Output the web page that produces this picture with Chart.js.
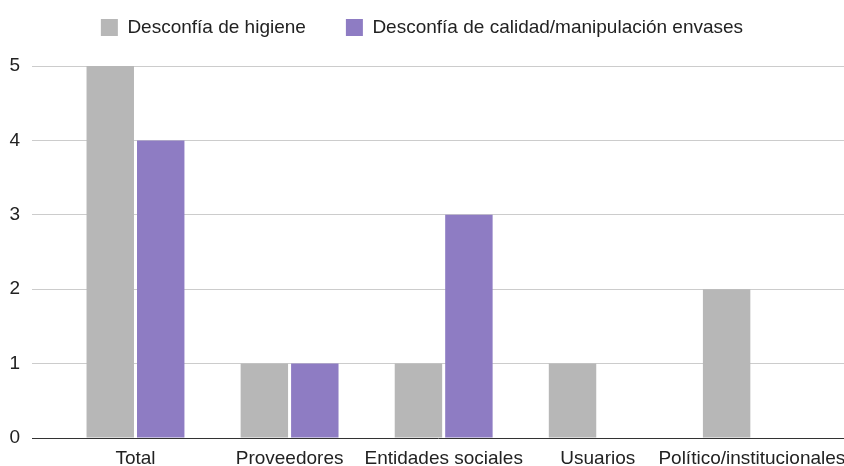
<!DOCTYPE html>
<html>
<head>
<meta charset="utf-8">
<script src="https://cdn.jsdelivr.net/npm/chart.js@4/dist/chart.umd.min.js"></script>
<style>
html,body{margin:0;padding:0;background:#fff;}
#wrap{width:844px;height:466px;position:relative;}
</style>
</head>
<body>
<div id="wrap"><canvas id="c" width="844" height="466"></canvas></div>
<script>
const categories = ["Total", "Proveedores", "Entidades sociales", "Usuarios", "Político/institucionales"];
const seriesNames = ["Desconfía de higiene", "Desconfía de calidad/manipulación envases"];
const higiene = [5, 1, 1, 1, 2];
const calidad = [4, 1, 3, 0, 0];
const yTicks = [0, 1, 2, 3, 4, 5];

const FONT = "'Liberation Sans', Arial, sans-serif";

const legendTweak = {
  id: 'legendTweak',
  beforeInit(chart) {
    const lg = chart.legend;
    const fit = lg.fit;
    lg.fit = function () { fit.call(this); this.height = 66; };
    const draw = lg.draw;
    lg.draw = function () {
      const c = this.ctx; c.save(); c.translate(0, -22); draw.call(this); c.restore();
    };
  }
};

new Chart(document.getElementById('c'), {
  type: 'bar',
  data: {
    datasets: [
      { label: seriesNames[0], data: categories.map((c, i) => ({ x: i, y: higiene[i] })), backgroundColor: '#b7b7b7' },
      { label: seriesNames[1], data: categories.map((c, i) => ({ x: i, y: calidad[i] })), backgroundColor: '#8e7cc3' }
    ]
  },
  options: {
    responsive: false,
    animation: false,
    devicePixelRatio: 1,
    layout: { padding: 0 },
    categoryPercentage: 0.655,
    barPercentage: 0.94,
    plugins: {
      legend: {
        position: 'top',
        labels: {
          font: { family: FONT, size: 19 },
          color: '#222',
          boxWidth: 17,
          boxHeight: 17,
          padding: 40
        }
      },
      tooltip: { enabled: false }
    },
    scales: {
      x: {
        type: 'linear',
        offset: false,
        min: -0.6716,
        max: 4.598,
        afterBuildTicks: (s) => { s.ticks = categories.map((c, i) => ({ value: i })); },
        afterFit: (s) => { s.height = 28; s.paddingLeft = 0; s.paddingRight = 0; },
        grid: { display: false, drawTicks: false, offset: false },
        border: { display: true, color: '#333', width: 1 },
        ticks: {
          autoSkip: false, maxRotation: 0, minRotation: 0,
          padding: 9,
          color: '#222',
          font: { family: FONT, size: 19 },
          callback: (v) => categories[v]
        }
      },
      y: {
        min: 0,
        max: 5,
        afterBuildTicks: (s) => { s.ticks = yTicks.map(v => ({ value: v })); },
        afterFit: (s) => { s.width = 32; },
        grid: { color: (ctx) => ctx.tick && ctx.tick.value === 0 ? 'rgba(0,0,0,0)' : '#cccccc', drawTicks: false },
        border: { display: false },
        ticks: {
          padding: 12,
          color: '#222',
          font: { family: FONT, size: 19 }
        }
      }
    }
  },
  plugins: [legendTweak]
});
</script>
</body>
</html>
